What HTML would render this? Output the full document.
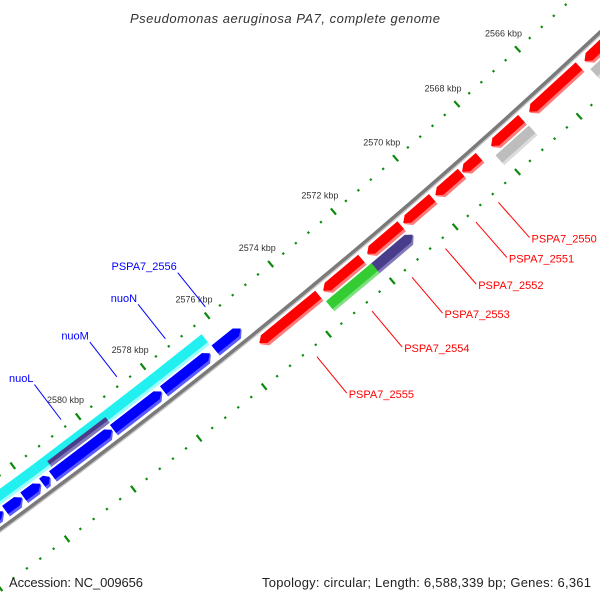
<!DOCTYPE html>
<html><head><meta charset="utf-8"><style>
html,body{margin:0;padding:0;background:#fff;width:600px;height:600px;overflow:hidden;}
svg{display:block;font-family:"Liberation Sans",sans-serif;}
</style></head><body>
<svg id="map" width="600" height="600" viewBox="0 0 600 600" xmlns="http://www.w3.org/2000/svg">
<rect width="600" height="600" fill="#fff"/>
<g id="ticks"></g>
<g id="backbone"></g>
<g id="genes"></g>
<g id="labels"></g>
<text x="285" y="23" text-anchor="middle" font-size="13" font-style="italic" fill="#333" textLength="310">Pseudomonas aeruginosa PA7, complete genome</text>
<text x="9" y="587" font-size="13" fill="#222" textLength="134">Accession: NC_009656</text>
<text x="591" y="587" text-anchor="end" font-size="13" fill="#222" textLength="329">Topology: circular; Length: 6,588,339 bp; Genes: 6,361</text>
</svg>
<script>
// ---- data ----
const geneStart = [2562.0,2565.18,2567.07,2568.45,2569.03,2569.96,2570.97,2572.22,2573.58, 2562.0,2567.05,2570.90,2572.11, 2575.56,2576.52,2578.02,2579.54,2581.44,2581.72,2582.28,2582.85, 2576.39,2577.91,2579.45,2581.60,2582.15, 2579.48];
const geneEnd   = [2565.0,2566.82,2568.06,2569.00,2569.86,2570.89,2572.04,2573.43,2575.43, 2565.03,2568.13,2572.15,2573.54, 2576.37,2577.97,2579.51,2581.37,2581.67,2582.24,2582.79,2585.0, 2577.91,2579.45,2581.60,2582.15,2585.0, 2581.26];
const geneTrack = [1,1,1,1,1,1,1,1,1, 2,2,2,2, -1,-1,-1,-1,-1,-1,-1,-1, -2,-2,-2,-2,-2, -3];
const geneDir   = [1,1,1,1,1,1,1,1,1, 0,0,-1,0, -1,-1,-1,-1,-1,-1,-1,-1, 0,0,0,0,0, 0];
const geneColor = ["red","red","red","red","red","red","red","red","red","gray","gray","slate","green","blue","blue","blue","blue","blue","blue","blue","blue","cyan","cyan","cyan","cyan","cyan","slate"];
const labelText = ["PSPA7_2550","PSPA7_2551","PSPA7_2552","PSPA7_2553","PSPA7_2554","PSPA7_2555","PSPA7_2556","nuoN","nuoM","nuoL"];
const labelKbp  = [2568.83,2569.55,2570.52,2571.58,2572.84,2574.56,2575.90,2577.15,2578.66,2580.38];
const labelSide = [1,1,1,1,1,1,-1,-1,-1,-1];
const tickLabelKbp = [2566,2568,2570,2572,2574,2576,2578,2580];

// ---- geometry ----
const NS="http://www.w3.org/2000/svg";
const CX=-3748, CY=-4606, R0=6358, A0=47.50, DPK=0.3714;
function ang(k){return (A0+(k-2566)*DPK)*Math.PI/180;}
function P(k,off){const a=ang(k),r=R0+off;return [CX+r*Math.cos(a),CY+r*Math.sin(a)];}
function mk(tag,attrs,parent){const e=document.createElementNS(NS,tag);for(const k in attrs)e.setAttribute(k,attrs[k]);parent.appendChild(e);return e;}
const trackOff={"1":[5,18],"2":[20,33],"-1":[-18,-5],"-2":[-33,-20],"-3":[-27,-20]};
const palette={red:["#ff0000","#ff7a7a"],gray:["#bdbdbd","#dcdcdc"],slate:["#483d8b","#8078b8"],green:["#33cc33","#7ee07e"],blue:["#0000ff","#5a5aff"],cyan:["#22f0f0","#a0ffff"]};

// ruler ticks
const tg=document.getElementById('ticks');
for(let i=-12;i<=50;i++){
  const k=2566+i*0.4, major=(i%5===0);
  [-44,47].forEach(o=>{
    const h=major?4:1.1;
    const a=P(k,o-h),b=P(k,o+h);
    const ln=mk('line',{x1:a[0],y1:a[1],x2:b[0],y2:b[1],stroke:'#0b8a0b','stroke-width':2.2},tg);
    
    
  });
}
tickLabelKbp.forEach(k=>{
  const p=P(k,-65);
  const t=mk('text',{x:p[0],y:p[1]+3,'text-anchor':'middle','font-size':'9',fill:'#333'},tg);
  t.textContent=k+' kbp';
  
  
});

// backbone
const bg=document.getElementById('backbone');
function arcPath(k1,k2,off){const a=P(k1,off),b=P(k2,off),r=R0+off;return `M${a[0]},${a[1]} A${r},${r} 0 0 1 ${b[0]},${b[1]}`;}
const b1=mk('path',{d:arcPath(2560,2587,0),fill:'none',stroke:'#7a7a7a','stroke-width':4.5},bg);


const b2=mk('path',{d:arcPath(2560,2587,1.8),fill:'none',stroke:'#c4c4c4','stroke-width':1.3},bg);



// genes
function shape(a,b,o1,o2,dir){
  const mid=(o1+o2)/2, h=Math.min(0.15,(b-a)/2);
  let pts;
  if(dir>0) pts=[P(a,o1),P(b-h,o1),P(b,mid),P(b-h,o2),P(a,o2)];
  else if(dir<0) pts=[P(a,mid),P(a+h,o1),P(b,o1),P(b,o2),P(a+h,o2)];
  else pts=[P(a,o1),P(b,o1),P(b,o2),P(a,o2)];
  return pts.map(p=>p[0].toFixed(2)+','+p[1].toFixed(2)).join(' ');
}
const gg=document.getElementById('genes');
for(let i=0;i<geneStart.length;i++){
  const off=trackOff[String(geneTrack[i])], col=palette[geneColor[i]];
  const g=mk('g',{},gg);
  
  
  const s1=mk('polygon',{points:shape(geneStart[i],geneEnd[i],off[0],off[1],geneDir[i]),fill:col[1]},g);
  
  
  const s2=mk('polygon',{points:shape(geneStart[i],geneEnd[i],off[0],off[1]-3,geneDir[i]),fill:col[0]},g);
  
  
}

// labels
const lg=document.getElementById('labels');
for(let i=0;i<labelText.length;i++){
  const side=labelSide[i], col=side>0?'#ff0000':'#0000ff';
  const a=P(labelKbp[i],side>0?57:-52), b=P(labelKbp[i],side>0?104:-96);
  const ln=mk('line',{x1:a[0],y1:a[1],x2:b[0],y2:b[1],stroke:col,'stroke-width':1},lg);
  
  
  const t=mk('text',{'font-size':'11',fill:col},lg);
  if(side>0){t.setAttribute('x',b[0]+2);t.setAttribute('y',b[1]+5);}
  else{t.setAttribute('x',b[0]-1);t.setAttribute('y',b[1]-2.5);t.setAttribute('text-anchor','end');}
  t.textContent=labelText[i];
  
  
}
</script>
</body></html>
